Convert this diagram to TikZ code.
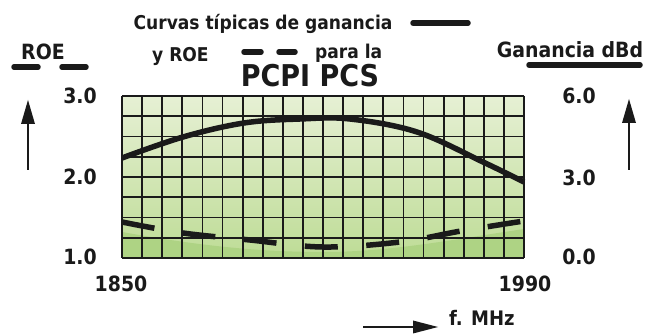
\documentclass[tikz,border=0pt]{standalone}
\usepackage{fontspec}
\setmainfont{DejaVu Sans Condensed}[UprightFont=* Bold]
\usetikzlibrary{arrows.meta}
\definecolor{ink}{HTML}{1A1A1A}
\definecolor{gtop}{HTML}{E6F0D4}
\definecolor{gmid}{HTML}{D2E7B6}
\definecolor{gbot}{HTML}{BEDC96}
\definecolor{gdark}{HTML}{AED384}
\begin{document}
\begin{tikzpicture}[x=1pt,y=-1pt,
  txt/.style={inner sep=0pt,text=ink},
  num/.style={txt,font=\fontsize{21}{21}\selectfont},
  ttl/.style={txt,font=\fontsize{19}{19}\selectfont},
  gridline/.style={draw=ink,line width=1.8pt},
  curve/.style={draw=ink,line width=5.5pt},
  legline/.style={draw=ink,line width=5.5pt,line cap=round},
  shaft/.style={draw=ink,line width=2.2pt},
  head/.style={fill=ink}]
\useasboundingbox (0,0) rectangle (653,336);
% background of chart
\shade[top color=gtop,middle color=gmid,bottom color=gbot] (122,96) rectangle (524,258);
\fill[gdark] (122,258) -- (122,232) .. controls (200,246) and (260,252) .. (323,252)
  .. controls (390,252) and (450,240) .. (524,229) -- (524,258) -- cycle;
\foreach \i in {0,...,20} \draw[gridline] ({122+\i*20.1},96) -- ({122+\i*20.1},258);
\foreach \j in {0,...,8} \draw[gridline] (122,{96+\j*20.25}) -- (524,{96+\j*20.25});
% gain curve
\draw[curve] plot[smooth,tension=0.6] coordinates {(122,158) (183,137) (244,123) (300,119) (350,119) (417,132) (483,162) (524,182)};
% ROE curve
\draw[curve,line cap=butt,dash pattern=on 33pt off 28.5pt] plot[smooth,tension=0.6] coordinates {(122,222) (183,233) (250,240) (323,247) (400,242) (461,231) (524,221)};
% titles
\node[ttl,anchor=base] (t1) at (263,30) {Curvas típicas de ganancia};
\node[ttl,anchor=base west] (t2) at (152,62) {y ROE};
\node[ttl,anchor=base west] (t3) at (315,59) {para la};
\node[txt,anchor=base,font=\fontsize{30}{30}\selectfont] (t4) at (310,87) {PCPI PCS};
\coordinate (s1a) at (413,23); \coordinate (s1b) at (468,23);
\draw[legline] (s1a) -- (s1b);
\coordinate (d1a) at (244,52); \coordinate (d1b) at (261,52);
\coordinate (d2a) at (279,52); \coordinate (d2b) at (295,52);
\draw[legline] (d1a) -- (d1b); \draw[legline] (d2a) -- (d2b);
% axis titles
\node[num,anchor=base] (roe) at (43,60) {ROE};
\coordinate (r1a) at (14,67); \coordinate (r1b) at (38,67);
\coordinate (r2a) at (62,67); \coordinate (r2b) at (86,67);
\draw[legline] (r1a) -- (r1b); \draw[legline] (r2a) -- (r2b);
\node[num,anchor=base] (gan) at (570,58) {Ganancia dBd};
\coordinate (ga) at (529,65); \coordinate (gb) at (640,65);
\draw[legline] (ga) -- (gb);
% left labels
\node[num] (l3) at (80,96) {3.0};
\node[num] (l2) at (80,177) {2.0};
\node[num] (l1) at (80,257) {1.0};
% right labels
\node[num] (r6) at (579,96) {6.0};
\node[num] (r3) at (579,178) {3.0};
\node[num] (r0) at (579,257) {0.0};
% bottom labels
\node[num] (f1) at (121,284) {1850};
\node[num] (f2) at (525,284) {1990};
\node[txt,anchor=base west,font=\fontsize{20}{20}\selectfont] (fm) at (449,326) {f. MHz};
% arrows (shaft + filled head)
\coordinate (la0) at (28,170); \coordinate (la1) at (28,100); \coordinate (la2) at (28,124);
\draw[shaft] (la0) -- (la2);
\fill[head] (la1) -- ([xshift=-7pt]la2) -- ([xshift=7pt]la2) -- cycle;
\coordinate (ra0) at (629,170); \coordinate (ra1) at (629,99); \coordinate (ra2) at (629,123);
\draw[shaft] (ra0) -- (ra2);
\fill[head] (ra1) -- ([xshift=-7pt]ra2) -- ([xshift=7pt]ra2) -- cycle;
\coordinate (ba0) at (363,327); \coordinate (ba1) at (438,327); \coordinate (ba2) at (413,327);
\draw[shaft] (ba0) -- (ba2);
\fill[head] (ba1) -- ([yshift=-6.5pt]ba2) -- ([yshift=6.5pt]ba2) -- cycle;
\end{tikzpicture}
\end{document}
